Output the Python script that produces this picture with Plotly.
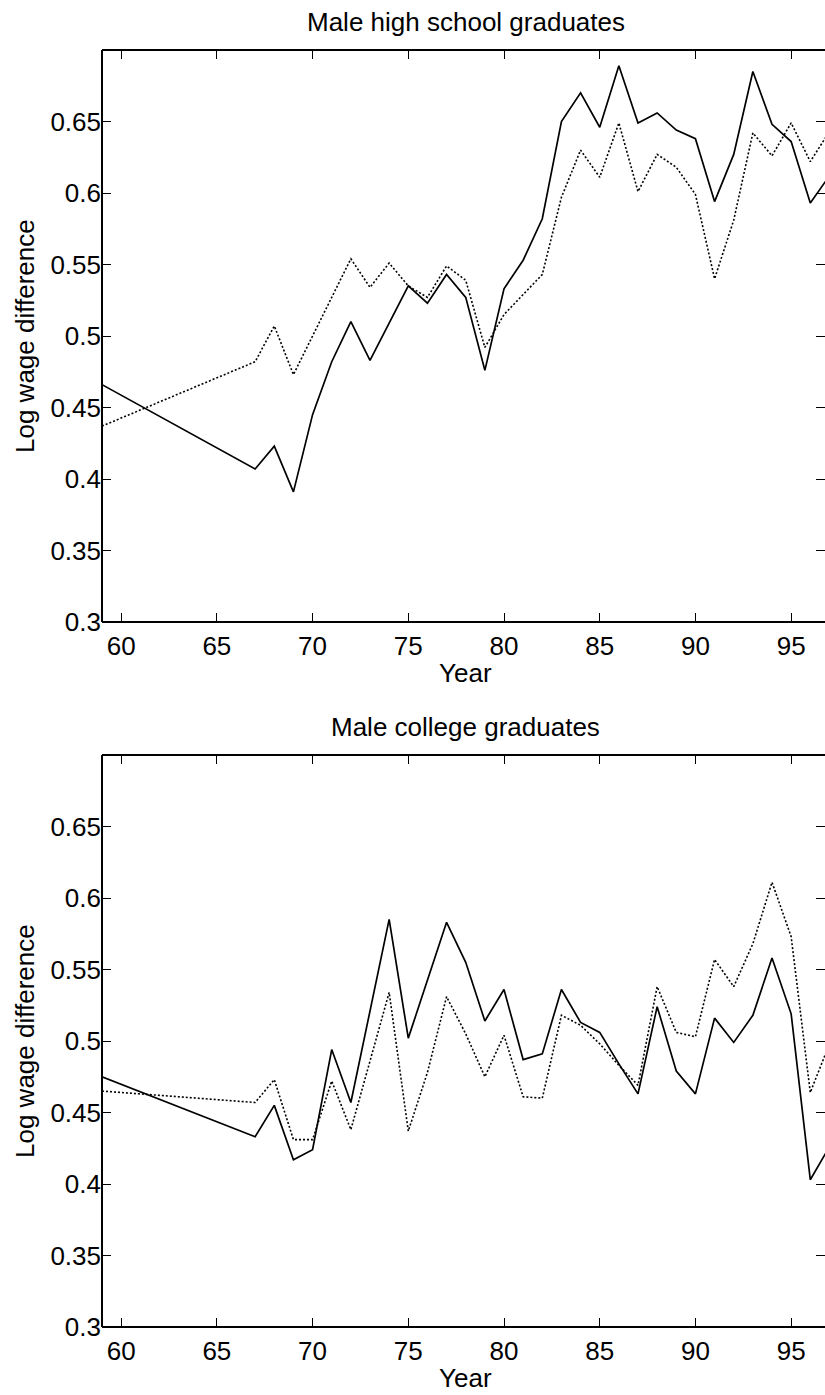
import plotly.graph_objects as go

years = [59] + list(range(67, 98))

hs_solid = [0.466, 0.407, 0.423, 0.391, 0.445, 0.482, 0.510, 0.483, 0.509, 0.535,
            0.523, 0.543, 0.527, 0.476, 0.533, 0.553, 0.582, 0.650, 0.670, 0.646,
            0.689, 0.649, 0.656, 0.644, 0.638, 0.594, 0.627, 0.685, 0.648, 0.636,
            0.593, 0.612]
hs_dotted = [0.437, 0.482, 0.507, 0.473, 0.500, 0.527, 0.554, 0.534, 0.551, 0.535,
             0.527, 0.549, 0.539, 0.492, 0.515, 0.529, 0.543, 0.597, 0.630, 0.611,
             0.649, 0.601, 0.627, 0.618, 0.599, 0.540, 0.581, 0.642, 0.626, 0.649,
             0.622, 0.643]
col_solid = [0.475, 0.433, 0.455, 0.417, 0.424, 0.494, 0.457, 0.521, 0.585, 0.502,
             0.543, 0.583, 0.555, 0.514, 0.536, 0.487, 0.491, 0.536, 0.513, 0.506,
             0.484, 0.463, 0.524, 0.479, 0.463, 0.516, 0.499, 0.518, 0.558, 0.519,
             0.403, 0.426]
col_dotted = [0.465, 0.457, 0.473, 0.431, 0.431, 0.472, 0.438, 0.486, 0.534, 0.437,
              0.478, 0.531, 0.505, 0.475, 0.504, 0.461, 0.460, 0.518, 0.511, 0.498,
              0.483, 0.469, 0.538, 0.506, 0.503, 0.557, 0.538, 0.568, 0.611, 0.573,
              0.464, 0.498]

titles = ["Male high school graduates", "Male college graduates"]
x_ticks = [60, 65, 70, 75, 80, 85, 90, 95]
y_ticks = [0.3, 0.35, 0.4, 0.45, 0.5, 0.55, 0.6, 0.65]
y_ticktext = ["0.3", "0.35", "0.4", "0.45", "0.5", "0.55", "0.6", "0.65"]

W, H = 825, 1395
FONT = "Liberation Sans, Arial, sans-serif"
FS = 26

left_px = 102
px_per_year = 19.143
x_range = [59, 59 + (W - left_px) / px_per_year]
panels = [(50, 622), (755, 1327)]  # top, bottom pixel of each plot area

fig = go.Figure()

series = [(hs_solid, hs_dotted), (col_solid, col_dotted)]
for i, (s, d) in enumerate(series):
    xa = "x" if i == 0 else "x2"
    ya = "y" if i == 0 else "y2"
    fig.add_trace(go.Scatter(x=years, y=s, mode="lines", xaxis=xa, yaxis=ya,
                             line=dict(color="black", width=1.7), showlegend=False,
                             hoverinfo="skip"))
    fig.add_trace(go.Scatter(x=years, y=d, mode="lines", xaxis=xa, yaxis=ya,
                             line=dict(color="black", width=1.6, dash="2px,2px"),
                             showlegend=False, hoverinfo="skip"))

tick_common = dict(ticks="inside", ticklen=9, tickwidth=1, tickcolor="black",
                   showline=False, showgrid=False, zeroline=False,
                   tickfont=dict(family=FONT, size=FS, color="black"))

layout = dict(width=W, height=H,
              margin=dict(l=0, r=0, t=0, b=0, autoexpand=False),
              paper_bgcolor="white", plot_bgcolor="white", showlegend=False)

for i, (top, bot) in enumerate(panels):
    dom = [1 - bot / H, 1 - top / H]
    n = 1 + i
    m = 3 + i
    xk, yk = f"xaxis{'' if n == 1 else n}", f"yaxis{'' if n == 1 else n}"
    xid, yid = ("x" if n == 1 else f"x{n}"), ("y" if n == 1 else f"y{n}")
    layout[xk] = dict(tick_common, range=x_range, tickvals=x_ticks,
                      domain=[left_px / W, 1], anchor=yid, ticklabelstandoff=6)
    layout[yk] = dict(tick_common, range=[0.3, 0.7], tickvals=y_ticks,
                      ticktext=y_ticktext, domain=dom, anchor=xid)
    layout[f"xaxis{m}"] = dict(tick_common, range=x_range, tickvals=x_ticks,
                               overlaying=xid, side="top", anchor=yid,
                               showticklabels=False)
    layout[f"yaxis{m}"] = dict(tick_common, range=[0.3, 0.7], tickvals=y_ticks,
                               overlaying=yid, side="right", anchor=xid,
                               showticklabels=False)
    fig.add_trace(go.Scatter(x=[None], y=[None], xaxis=f"x{m}", yaxis=yid,
                             mode="lines", showlegend=False, hoverinfo="skip"))
    fig.add_trace(go.Scatter(x=[None], y=[None], xaxis=xid, yaxis=f"y{m}",
                             mode="lines", showlegend=False, hoverinfo="skip"))

fig.update_layout(**layout)

shapes = []
annotations = []
for i, (top, bot) in enumerate(panels):
    xr = "x domain" if i == 0 else "x2 domain"
    yr = "y domain" if i == 0 else "y2 domain"
    ln = dict(color="black", width=2)
    shapes.append(dict(type="line", xref=xr, yref=yr, x0=0, x1=0, y0=0, y1=1, line=ln))
    shapes.append(dict(type="line", xref=xr, yref=yr, x0=0, x1=1.01, y0=0, y1=0, line=ln))
    shapes.append(dict(type="line", xref=xr, yref=yr, x0=0, x1=1.01, y0=1, y1=1, line=ln))
    cx = (left_px + 829) / 2 / W
    annotations.append(dict(text=titles[i], xref="paper", yref="paper",
                            x=cx, y=1 - (top - 28) / H, xanchor="center", yanchor="middle",
                            showarrow=False, font=dict(family=FONT, size=FS, color="black")))
    annotations.append(dict(text="Year", xref="paper", yref="paper",
                            x=cx, y=1 - (bot + 51) / H, xanchor="center", yanchor="middle",
                            showarrow=False, font=dict(family=FONT, size=FS, color="black")))
    annotations.append(dict(text="Log wage difference", xref="paper", yref="paper",
                            x=25 / W, y=1 - (top + bot) / 2 / H, xanchor="center",
                            yanchor="middle", textangle=-90, showarrow=False,
                            font=dict(family=FONT, size=FS, color="black")))

fig.update_layout(shapes=shapes, annotations=annotations)
fig.write_html("out.html")
